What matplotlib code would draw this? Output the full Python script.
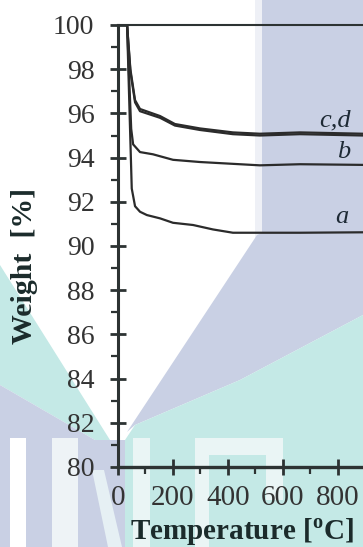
import matplotlib
matplotlib.use("Agg")
import matplotlib.pyplot as plt
from matplotlib.patches import Polygon
from matplotlib.ticker import MultipleLocator

plt.rcParams["font.family"] = ["Liberation Serif", "DejaVu Serif"]
plt.rcParams["mathtext.fontset"] = "custom"
plt.rcParams["mathtext.rm"] = "Liberation Serif"
plt.rcParams["mathtext.bf"] = "Liberation Serif:bold"

# data
temp_cd = [33, 45, 62, 80, 153, 207, 298, 418, 516, 662, 891]
weight_c = [100, 98.0, 96.6, 96.2, 95.88, 95.52, 95.32, 95.14, 95.08, 95.14, 95.08]
weight_d = [100, 97.9, 96.5, 96.1, 95.8, 95.45, 95.25, 95.06, 95.0, 95.06, 95.0]

temp_b = [33, 48, 55, 80, 127, 200, 298, 516, 662, 891]
weight_b = [100, 95.3, 94.6, 94.25, 94.15, 93.9, 93.8, 93.65, 93.7, 93.67]

temp_a = [33, 50, 62, 80, 105, 153, 200, 273, 345, 418, 662, 891]
weight_a = [100, 92.6, 91.8, 91.55, 91.4, 91.25, 91.05, 90.95, 90.75, 90.6, 90.6, 90.62]

curve_labels = ["c,d", "b", "a"]
label_pos = [(845, 95.4), (845, 93.98), (838, 91.04)]

W, H = 363, 547
LAV = "#c9d0e4"
TEAL = "#c4e9e6"
PALE = "#eaf5f5"


def px(pts):
    return [(x / W, 1 - y / H) for x, y in pts]


def add_watermark(fig):
    # rough copy of the faint logo behind the plot
    shapes = [
        ("#eef0f6", [(255, 0), (262, 0), (262, 240), (255, 245)]),
        (LAV, [(262, 0), (363, 0), (363, 315), (240, 380), (135, 425), (127, 432), (257, 235), (262, 233)]),
        (TEAL, [(363, 315), (363, 547), (125, 547), (125, 440), (135, 425), (240, 380)]),
        (TEAL, [(0, 265), (110, 440), (95, 440), (0, 385)]),
        (LAV, [(0, 385), (95, 440), (125, 440), (125, 547), (0, 547)]),
        ("white", [(10, 438), (26, 438), (26, 547), (10, 547)]),
        ("#eef3f6", [(52, 438), (78, 438), (78, 547), (52, 547)]),
        ("#e6f0f4", [(92, 470), (104, 470), (122, 547), (108, 547)]),
        (PALE, [(133, 438), (150, 438), (150, 547), (133, 547)]),
        (PALE, [(195, 438), (283, 438), (283, 455), (195, 455)]),
        (PALE, [(195, 438), (209, 438), (209, 547), (195, 547)]),
        (PALE, [(266, 438), (283, 438), (283, 500), (266, 500)]),
    ]
    for color, pts in shapes:
        fig.patches.append(Polygon(px(pts), closed=True, transform=fig.transFigure,
                                   facecolor=color, edgecolor="none", zorder=-5))


fig = plt.figure(figsize=(W / 100, H / 100), dpi=100)
add_watermark(fig)

ax = fig.add_axes([118 / W, 80 / H, 245 / W, 442 / H])
ax.set_facecolor("none")

line_kw = dict(color="#2b2b2b", lw=1.6)
ax.plot(temp_cd, weight_c, **line_kw)
ax.plot(temp_cd, weight_d, **line_kw)
ax.plot(temp_b, weight_b, **line_kw)
ax.plot(temp_a, weight_a, **line_kw)

for txt, (x, y) in zip(curve_labels, label_pos):
    ax.text(x, y, txt, ha="right", va="baseline", fontsize=19, style="italic",
            color="#1e2a35")

ax.set_xlim(0, 891)
ax.set_ylim(80, 100)
ax.xaxis.set_major_locator(MultipleLocator(200))
ax.xaxis.set_minor_locator(MultipleLocator(100))
ax.yaxis.set_major_locator(MultipleLocator(2))
ax.yaxis.set_minor_locator(MultipleLocator(1))

ax.spines["right"].set_visible(False)
ax.spines["left"].set_linewidth(2.2)
ax.spines["bottom"].set_linewidth(2.4)
ax.spines["top"].set_linewidth(1.5)
for s in ax.spines.values():
    s.set_color("#2d3333")

ax.tick_params(which="major", direction="inout", length=12, width=2, color="#2d3333",
               labelcolor="#333333")
ax.tick_params(axis="y", which="major", pad=11, labelsize=20)
ax.tick_params(axis="x", which="major", pad=7, labelsize=21)
ax.tick_params(which="minor", direction="out", length=5, width=1.6, color="#2d3333")

fig.text(25 / W, 1 - 266 / H, "Weight  [%]", rotation=90, ha="center", va="center",
         fontsize=21.5, fontweight="bold", color="#1b2b2b")
fig.text(242 / W, 1 - 540 / H, r"Temperature [$^{\mathbf{o}}$C]", ha="center",
         va="baseline", fontsize=21, fontweight="bold", color="#1b2b2b")

fig.savefig("out.png", dpi=100)
